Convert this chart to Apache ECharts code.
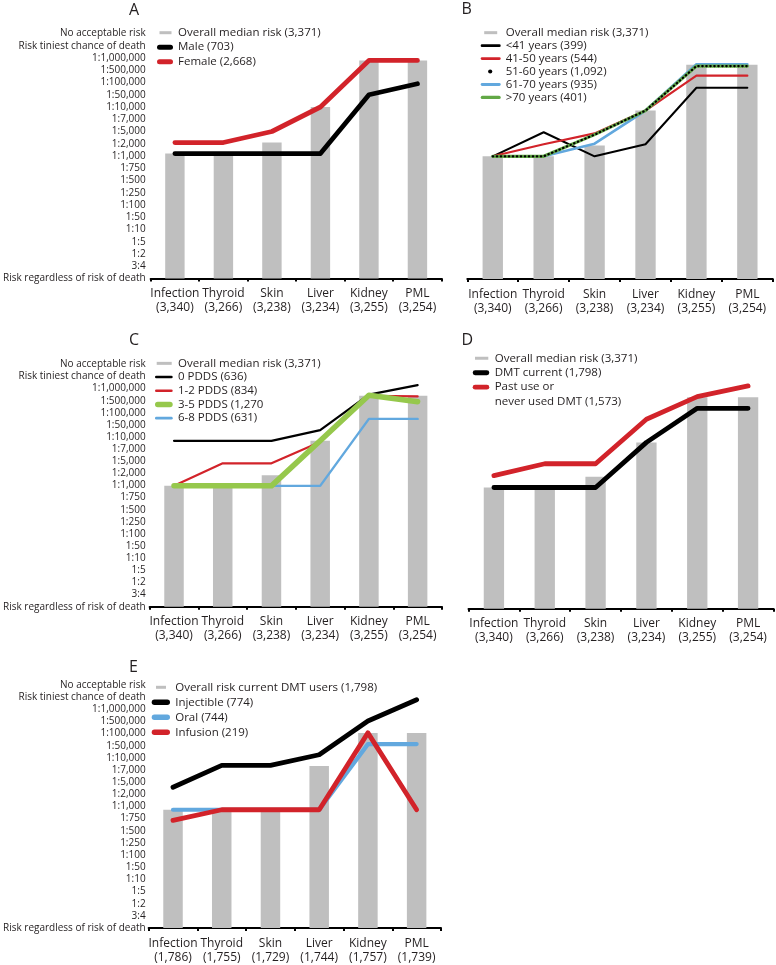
<!DOCTYPE html>
<html><head><meta charset="utf-8">
<script src="https://cdn.jsdelivr.net/npm/echarts@6/dist/echarts.min.js"></script>
<style>html,body{margin:0;padding:0;background:#fff}#c{width:776px;height:965px}</style>
</head><body><div id="c"></div>
<script>
// ---------- data ----------
const categories = ['Infection', 'Thyroid', 'Skin', 'Liver', 'Kidney', 'PML'];
const nAll = ['(3,340)', '(3,266)', '(3,238)', '(3,234)', '(3,255)', '(3,254)'];
const nDMT = ['(1,786)', '(1,755)', '(1,729)', '(1,744)', '(1,757)', '(1,739)'];
const riskLabels = ['Risk regardless of risk of death', '3:4', '1:2', '1:5', '1:10', '1:50', '1:100', '1:250', '1:500', '1:750',
  '1:1,000', '1:2,000', '1:5,000', '1:7,000', '1:10,000', '1:50,000', '1:100,000', '1:500,000', '1:1,000,000',
  'Risk tiniest chance of death', 'No acceptable risk'];

// risk scale position (0 = risk regardless ... 20 = no acceptable risk)
const overallMedian = [10.2, 10.2, 11.1, 14.0, 17.8, 17.8];
// A: sex
const male = [10.2, 10.2, 10.2, 10.2, 15.0, 15.9];
const female = [11.1, 11.1, 12.0, 14.0, 17.8, 17.8];
// B: age
const ageUnder41 = [10.2, 12.2, 10.2, 11.2, 15.9, 15.9];
const age41to50 = [10.2, 11.2, 12.1, 14.0, 16.9, 16.9];
const age51to60 = [10.2, 10.2, 12.0, 14.0, 17.7, 17.7];
const age61to70 = [10.2, 10.2, 11.25, 14.0, 17.85, 17.85];
const ageOver70 = [10.2, 10.2, 12.0, 14.0, 17.7, 17.7];
// C: PDDS
const pdds0 = [14.0, 14.0, 14.0, 14.9, 17.9, 18.7];
const pdds1to2 = [10.2, 12.1, 12.1, 13.9, 17.8, 17.75];
const pdds3to5 = [10.2, 10.2, 10.2, 14.0, 17.85, 17.3];
const pdds6to8 = [10.2, 10.2, 10.2, 10.2, 15.85, 15.85];
// D: DMT
const dmtCurrent = [10.2, 10.2, 10.2, 14.0, 16.87, 16.87];
const dmtPastNever = [11.2, 12.2, 12.2, 15.95, 17.85, 18.75];
// E: DMT type
const overallDMT = [10.0, 10.0, 10.0, 13.7, 16.5, 16.5];
const injectable = [11.9, 13.75, 13.75, 14.65, 17.5, 19.3];
const oral = [10.0, 10.0, 10.0, 10.0, 15.55, 15.55];
const infusion = [9.1, 10.0, 10.0, 10.0, 16.5, 10.0];

// ---------- styling helpers ----------
const TXT = '#231f20', GRAY = '#bfbfbf', BLACK = '#000000', RED = '#d2232a', BLUE = '#62a8de', GREENC = '#96c84c', GREENB = '#62a846';
const FONT = 'Open Sans';

function rectIcon(W, H, x0, x1, t, cy) {
  const c = cy == null ? H / 2 : cy;
  const y0 = c - t / 2;
  return `path://M0,0M${W},${H}M${x0},${y0}H${x1}V${y0 + t}H${x0}Z`;
}
function roundIcon(W, H, x0, x1, t, cy) {
  const c = cy == null ? H / 2 : cy;
  const r = t / 2, y0 = c - r;
  return `path://M0,0M${W},${H}M${x0 + r},${y0}H${x1 - r}A${r},${r} 0 0 1 ${x1 - r},${y0 + t}H${x0 + r}A${r},${r} 0 0 1 ${x0 + r},${y0}Z`;
}
function dotIcon(W, H, cx, r) {
  const cy = H / 2;
  return `path://M0,0M${W},${H}M${cx - r},${cy}A${r},${r} 0 1 1 ${cx + r},${cy}A${r},${r} 0 1 1 ${cx - r},${cy}Z`;
}

function xAxisFor(i, counts, margin) {
  return {
    type: 'category', gridIndex: i, data: categories,
    axisLine: { lineStyle: { color: BLACK, width: 2 } },
    axisTick: { show: true, length: 3, lineStyle: { color: BLACK, width: 2 } },
    axisLabel: { interval: 0, fontFamily: FONT, fontSize: 12, lineHeight: 14, color: TXT, margin: margin,
      formatter: (v, idx) => v + '\n' + counts[idx] },
    splitLine: { show: false }
  };
}
function labelYAxis(g, margin) {
  return {
    type: 'value', gridIndex: g, min: 0, max: 20, interval: 1,
    axisLine: { show: false }, axisTick: { show: false }, splitLine: { show: false },
    axisLabel: { fontFamily: FONT, fontSize: 10, color: TXT, margin: margin,
      formatter: v => riskLabels[Math.round(v)] || '' }
  };
}
function hiddenYAxis(g, max) {
  return { type: 'value', gridIndex: g, min: 0, max: max, show: false, splitLine: { show: false } };
}
function bar(name, data, xi, yi) {
  return { type: 'bar', name, data, xAxisIndex: xi, yAxisIndex: yi, barWidth: '40%',
    itemStyle: { color: GRAY }, silent: true, z: 1 };
}
function line(name, data, xi, yi, color, width, extra) {
  return Object.assign({ type: 'line', name, data, xAxisIndex: xi, yAxisIndex: yi, symbol: 'none', silent: true,
    color: color, itemStyle: { color: color },
    lineStyle: { color: color, width: width, cap: 'round', join: 'round' }, z: 3 }, extra || {});
}
function legendBase(left, top, W, H, gap, items, lineHeight) {
  return {
    left, top, orient: 'vertical', itemWidth: W, itemHeight: H, itemGap: gap, padding: 0, selectedMode: false,
    itemStyle: { borderWidth: 0 },
    textStyle: Object.assign({ fontFamily: FONT, fontSize: 11.5, color: TXT }, lineHeight ? { lineHeight } : {}),
    data: items
  };
}
function title(text, left, top) {
  return { text, left, top, padding: 0, textStyle: { fontFamily: FONT, fontSize: 16, fontWeight: 'normal', color: TXT } };
}

const OVERALL = 'Overall median risk (3,371)';
const OVERALL_E = 'Overall risk current DMT users (1,798)';
const PAST = 'Past use or\nnever used DMT (1,573)';

const option = {
  animation: false,
  backgroundColor: '#ffffff',
  textStyle: { fontFamily: FONT },
  title: [title('A', 129, 2.5), title('B', 461.5, 1.5), title('C', 129, 332.5), title('D', 461.5, 332.5), title('E', 129, 659)],
  grid: [
    { left: 147, top: 33.5, width: 294.7, height: 245 },
    { left: 467.3, top: 38.4, width: 305.5, height: 240.6 },
    { left: 146, top: 364.3, width: 296, height: 242.4 },
    { left: 468.5, top: 371.1, width: 305, height: 237.6 },
    { left: 145, top: 685, width: 296, height: 243.5 }
  ],
  xAxis: [xAxisFor(0, nAll, 8.5), xAxisFor(1, nAll, 8.5), xAxisFor(2, nAll, 8), xAxisFor(3, nAll, 8), xAxisFor(4, nDMT, 9)],
  yAxis: [
    labelYAxis(0, 5),          // 0 A
    hiddenYAxis(1, 20),        // 1 B
    labelYAxis(2, 4),          // 2 C labels
    hiddenYAxis(2, 20.46),     // 3 C data
    hiddenYAxis(3, 20),        // 4 D
    labelYAxis(4, 3),          // 5 E labels
    hiddenYAxis(4, 20.55)      // 6 E data
  ],
  legend: [
    legendBase(157, 25.7, 16, 14, 0.5, [
      { name: OVERALL, icon: rectIcon(16, 14, 2.5, 14.5, 3) },
      { name: 'Male (703)', icon: roundIcon(16, 14, 0, 16, 5) },
      { name: 'Female (2,668)', icon: roundIcon(16, 14, 0, 16, 5) }
    ]),
    legendBase(480.7, 26.2, 20, 12.95, 0, [
      { name: OVERALL, icon: rectIcon(20, 12.95, 3.5, 16.5, 3) },
      { name: '<41 years (399)', icon: roundIcon(20, 12.95, 0, 20, 2.6) },
      { name: '41-50 years (544)', icon: roundIcon(20, 12.95, 0, 20, 2.6) },
      { name: '51-60 years (1,092)', icon: dotIcon(20, 12.95, 9.5, 2.1) },
      { name: '61-70 years (935)', icon: roundIcon(20, 12.95, 0, 20, 2.8) },
      { name: '>70 years (401)', icon: roundIcon(20, 12.95, 0, 20, 3.2) }
    ]),
    legendBase(155, 356.5, 18, 13.7, 0, [
      { name: OVERALL, icon: rectIcon(18, 13.7, 1.7, 16.7, 3) },
      { name: '0 PDDS (636)', icon: roundIcon(18, 13.7, 0, 17.7, 2.6) },
      { name: '1-2 PDDS (834)', icon: roundIcon(18, 13.7, 0, 17.7, 2.6) },
      { name: '3-5 PDDS (1,270', icon: roundIcon(18, 13.7, 0, 17.7, 5.5) },
      { name: '6-8 PDDS (631)', icon: roundIcon(18, 13.7, 0, 17.7, 2.6) }
    ]),
    legendBase(472.7, 351, 17, 14.5, 0, [
      { name: OVERALL, icon: rectIcon(17, 14.5, 2.3, 15.6, 3) },
      { name: 'DMT current (1,798)', icon: roundIcon(17, 14.5, 0, 16.6, 4.8) }
    ]),
    legendBase(472.7, 380, 17, 28.8, 0, [
      { name: PAST, icon: roundIcon(17, 28.8, 0, 16.6, 4.8, 7.2) }
    ], 14.4),
    legendBase(151.7, 679.8, 18.5, 15, 0, [
      { name: OVERALL_E, icon: rectIcon(18.5, 15, 4.3, 14.3, 3) },
      { name: 'Injectible (774)', icon: roundIcon(18.5, 15, 0, 18.3, 5.5) },
      { name: 'Oral (744)', icon: roundIcon(18.5, 15, 0, 18.3, 5.5) },
      { name: 'Infusion (219)', icon: roundIcon(18.5, 15, 0, 18.3, 5.5) }
    ])
  ],
  series: [
    // A
    bar(OVERALL, overallMedian, 0, 0),
    line('Female (2,668)', female, 0, 0, RED, 4.8),
    line('Male (703)', male, 0, 0, BLACK, 4.8),
    // B
    bar(OVERALL, overallMedian, 1, 1),
    line('<41 years (399)', ageUnder41, 1, 1, BLACK, 2),
    line('41-50 years (544)', age41to50, 1, 1, RED, 2.2),
    line('61-70 years (935)', age61to70, 1, 1, BLUE, 2.6),
    line('>70 years (401)', ageOver70, 1, 1, GREENB, 3.2),
    line('51-60 years (1,092)', age51to60, 1, 1, BLACK, 2.2,
      { lineStyle: { color: BLACK, width: 2.2, type: [0.5, 3.5], cap: 'round', join: 'round' }, z: 4 }),
    // C
    bar(OVERALL, overallMedian, 2, 3),
    line('6-8 PDDS (631)', pdds6to8, 2, 3, BLUE, 2.4),
    line('0 PDDS (636)', pdds0, 2, 3, BLACK, 2.2),
    line('1-2 PDDS (834)', pdds1to2, 2, 3, RED, 2.2),
    line('3-5 PDDS (1,270', pdds3to5, 2, 3, GREENC, 5.5),
    // D
    bar(OVERALL, overallMedian, 3, 4),
    line('DMT current (1,798)', dmtCurrent, 3, 4, BLACK, 4.8),
    line(PAST, dmtPastNever, 3, 4, RED, 4.8),
    // E
    bar(OVERALL_E, overallDMT, 4, 6),
    line('Oral (744)', oral, 4, 6, BLUE, 4.2),
    line('Injectible (774)', injectable, 4, 6, BLACK, 4.8),
    line('Infusion (219)', infusion, 4, 6, RED, 4.8)
  ]
};

const chart = echarts.init(document.getElementById('c'), null, { renderer: 'canvas' });
chart.setOption(option);
</script>
</body></html>
